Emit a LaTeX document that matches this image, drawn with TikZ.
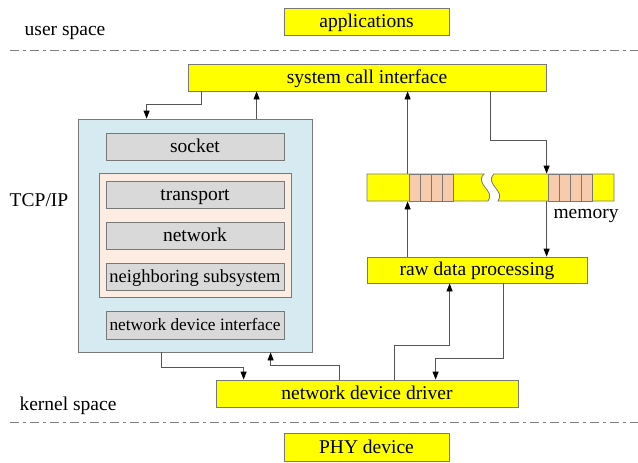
\documentclass[tikz,border=0pt]{standalone}
\usepackage{fontspec}
\setmainfont{Liberation Serif}
\usetikzlibrary{arrows.meta, shapes, positioning}

\definecolor{boxyellow}{RGB}{255,255,0}
\definecolor{boxgray}{RGB}{217,217,217}
\definecolor{edgegray}{RGB}{120,120,120}
\definecolor{linegray}{RGB}{85,85,85}
\definecolor{tcpblue}{RGB}{213,234,241}
\definecolor{panelpeach}{RGB}{252,236,226}
\definecolor{cellpeach}{RGB}{248,203,173}

\tikzset{
	ybox/.style={draw=edgegray, fill=boxyellow, minimum height=27pt, inner sep=0pt, text height=14pt, text depth=3pt},
	gbox/.style={draw=edgegray, fill=boxgray, minimum width=178pt, minimum height=27pt, inner sep=0pt, text height=14pt, text depth=3pt},
	link/.style={draw=linegray, line width=0.8pt},
	sepline/.style={draw=gray, line width=0.8pt, dash pattern=on 9pt off 4pt on 3pt off 4pt}
}

\begin{document}
\begin{tikzpicture}[x=1pt, y=-1pt, line width=0.8pt,
	font=\fontsize{19.5}{22}\selectfont,
	>={Triangle[length=8pt, width=6pt, color=black]}]
	\useasboundingbox (0,0) rectangle (638,463);

	%user space
	\node (user)	at (65, 33)		{user space};
	\node[ybox, minimum width=165pt] (apps)	at (366.5, 22)	{applications};
	\draw[sepline] (10, 50) to (638, 50);

	\node[ybox, minimum width=358pt] (syscall)	at (367, 77.5)	{system call interface};

	%partie gauche : TCP/IP
	\node (tcplabel)	at (39, 200)	{TCP/IP};
	\node[draw=edgegray, fill=tcpblue, minimum width=234pt, minimum height=233pt] (tcp) at (195, 235.5) {};
	\node[gbox] (socket)	at (195, 146.5)	{socket};
	\node[draw=edgegray, fill=panelpeach, minimum width=192pt, minimum height=124pt] (stack) at (195, 235) {};
	\node[gbox] (transport)	at (195, 194.5)	{transport};
	\node[gbox] (network)	at (195, 235.5)	{network};
	\node[gbox, font=\fontsize{18.5}{20}\selectfont] (neigh)	at (195, 276.5)	{neighboring subsystem};
	\node[gbox, minimum height=28pt, font=\fontsize{17.3}{19}\selectfont] (ndi)	at (195, 325)	{network device interface};

	%partie droite : memory
	\node[minimum width=247pt, minimum height=27pt] (mem) at (490.5, 187.5) {};
	\draw[draw=edgegray, fill=boxyellow] (367,174) -- (484,174) .. controls (474,184) and (496,191) .. (488,201) -- (367,201) -- cycle;
	\draw[draw=edgegray, fill=boxyellow] (494,174) -- (614,174) -- (614,201) -- (498,201) .. controls (506,191) and (484,184) .. (494,174) -- cycle;
	\foreach \x in {409, 548}{
		\draw[draw=edgegray, fill=cellpeach] (\x,174) rectangle (\x+44,201);
		\foreach \k in {1,2,3}
			\draw[draw=edgegray] (\x+11*\k,174) to (\x+11*\k,201);
	}
	\node (memlabel)	at (586, 216)	{memory};

	\node[ybox, minimum width=220pt, minimum height=26pt] (raw)	at (477, 270)	{raw data processing};

	%kernel space
	\node[ybox, minimum width=302pt] (driver)	at (367, 393.5)	{network device driver};
	\node (kernel)	at (68, 406)	{kernel space};
	\draw[sepline] (10, 422) to (638, 422);
	\node[ybox, minimum width=165pt, minimum height=28pt] (phy)	at (366.5, 447.5)	{PHY device};

	%connexions
	\draw[link, ->] ([xshift=14pt]syscall.south west) -- ++(0,13) -| ([xshift=69pt]tcp.north west);
	\draw[link, ->] ([xshift=179pt]tcp.north west) to ([xshift=179pt]tcp.north west |- syscall.south);
	\draw[link, ->] ([xshift=41pt]mem.north west) to ([xshift=41pt]mem.north west |- syscall.south);
	\draw[link, ->] ([xshift=41pt]raw.north west) to ([xshift=41pt]raw.north west |- mem.south);
	\draw[link, ->] ([xshift=303pt]syscall.south west) -- ++(0,49) -| ([xshift=180pt]mem.north west);
	\draw[link, ->] ([xshift=180pt]mem.south west) to ([xshift=180pt]mem.south west |- raw.north);

	\draw[link, ->] ([xshift=84pt]tcp.south west) -- ++(0,15) -| ([xshift=28pt]driver.north west);
	\draw[link, ->] ([xshift=124pt]driver.north west) -- ++(0,-14) -| ([xshift=193pt]tcp.south west);
	\draw[link, ->] ([xshift=179pt]driver.north west) -- ++(0,-34) -| ([xshift=83pt]raw.south west);
	\draw[link, ->] ([xshift=137pt]raw.south west) -- ++(0,75) -| ([xshift=220pt]driver.north west);
\end{tikzpicture}
\end{document}
